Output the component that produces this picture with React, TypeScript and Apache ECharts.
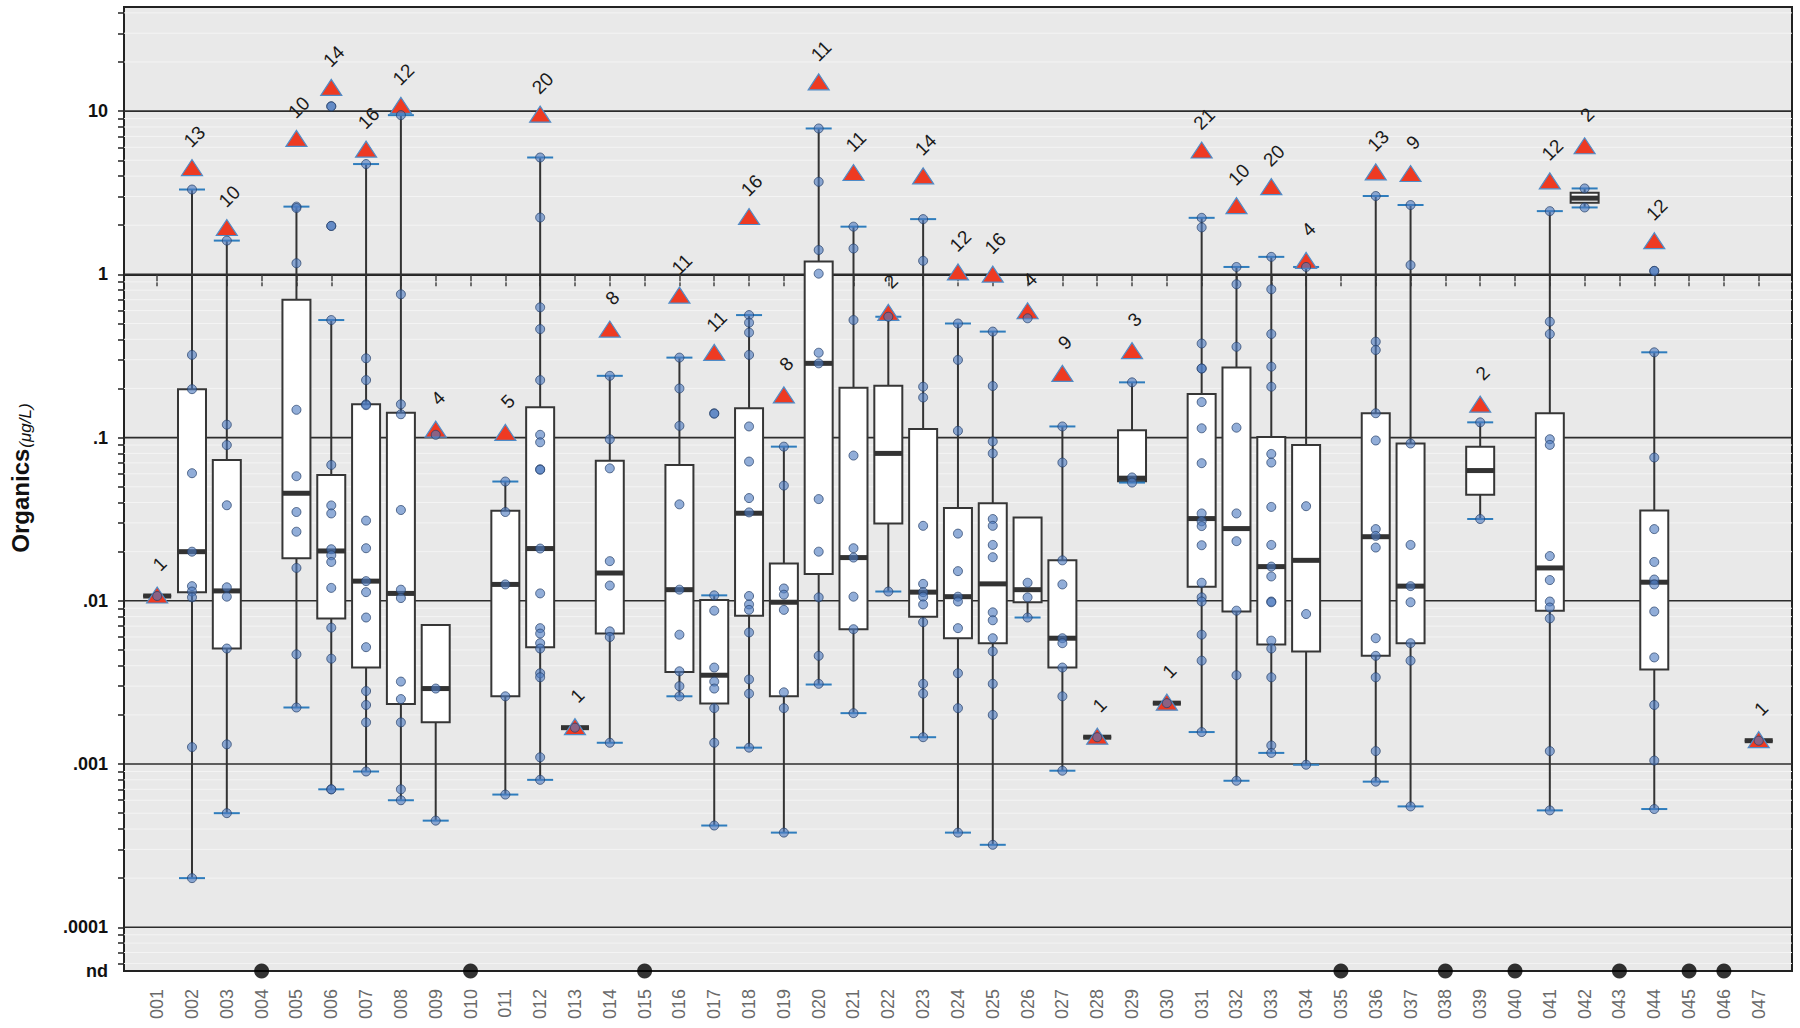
import React, { useEffect, useRef } from 'react';
import * as echarts from 'echarts';

const categories = ['001','002','003','004','005','006','007','008','009','010','011','012','013','014','015','016','017','018','019','020','021','022','023','024','025','026','027','028','029','030','031','032','033','034','035','036','037','038','039','040','041','042','043','044','045','046','047'];

const whiskerLow = [0.0107,0.0002,0.0005,null,0.00222,0.0007,0.0009,0.0006,0.00045,null,0.00065,0.0008,0.00167,0.00135,null,0.0026,0.00042,0.00126,0.00038,0.00307,0.00205,0.0114,0.00146,0.00038,0.00032,0.0079,0.00091,0.00146,0.053,0.00236,0.00157,0.00079,0.00117,0.00099,null,0.00078,0.00055,null,0.0317,null,0.00052,2.57,null,0.00053,null,null,0.00139];
const q1 = [0.0107,0.0113,0.0051,null,0.0182,0.0078,0.0039,0.00233,0.0018,null,0.0026,0.0052,0.00167,0.0063,null,0.00366,0.00235,0.0081,0.0026,0.0146,0.0067,0.0298,0.008,0.0059,0.0055,0.0098,0.0039,0.00146,0.054,0.00236,0.0122,0.0086,0.0054,0.0049,null,0.0046,0.0055,null,0.0446,null,0.0087,2.75,null,0.0038,null,null,0.00139];
const median = [0.0107,0.02,0.0115,null,0.0456,0.0202,0.0132,0.0111,0.0029,null,0.0126,0.0209,0.00167,0.0148,null,0.0117,0.0035,0.0344,0.0098,0.285,0.0184,0.08,0.0113,0.0106,0.0127,0.0117,0.0059,0.00146,0.0564,0.00236,0.0319,0.0277,0.0162,0.0177,null,0.0247,0.0123,null,0.0628,null,0.0159,2.93,null,0.013,null,null,0.00139];
const q3 = [0.0107,0.198,0.073,null,0.7,0.059,0.16,0.142,0.0071,null,0.0356,0.1535,0.00167,0.072,null,0.068,0.0101,0.151,0.0169,1.2,0.202,0.208,0.113,0.037,0.0396,0.0324,0.0177,0.00146,0.111,0.00236,0.185,0.269,0.101,0.09,null,0.141,0.092,null,0.088,null,0.141,3.16,null,0.0357,null,null,0.00139];
const whiskerHigh = [0.0107,3.31,1.61,null,2.6,0.525,4.74,9.45,null,null,0.0538,5.2,0.00167,0.239,null,0.309,0.0108,0.563,0.088,7.83,1.96,0.55,2.18,0.5,0.446,null,0.117,0.00146,0.218,0.00236,2.22,1.11,1.28,1.11,null,3.02,2.66,null,0.124,null,2.44,3.36,null,0.333,null,null,0.00139];

const triangleValues = [0.0107,4.45,1.91,null,6.71,13.8,5.77,10.7,0.111,null,0.106,9.45,0.00167,0.456,null,0.736,0.328,2.23,0.18,14.9,4.15,0.577,3.96,1.02,0.99,0.59,0.244,0.00146,0.336,0.00236,5.7,2.6,3.4,1.2,null,4.19,4.09,null,0.158,null,3.69,6.05,null,1.585,null,null,0.00139];
const triangleCounts = [1,13,10,null,10,14,16,12,4,null,5,20,1,8,null,11,11,16,8,11,11,2,14,12,16,4,9,1,3,1,21,10,20,4,null,13,9,null,2,null,12,2,null,12,null,null,1];

const ndCategories = ['004','010','015','035','038','040','043','045','046'];

const pointValues: number[][] = [
  [0.0107],
  [3.31,0.321,0.198,0.0605,0.02,0.0123,0.0114,0.0105,0.00127,0.0002],
  [1.61,0.12,0.09,0.0385,0.0121,0.0106,0.0051,0.00132,0.0005],
  [],
  [2.6,2.55,1.17,0.148,0.058,0.035,0.0265,0.0159,0.0047,0.00222],
  [10.7,10.7,1.98,1.98,0.525,0.068,0.0384,0.0343,0.0207,0.019,0.0173,0.012,0.00685,0.00442,0.0007,0.0007],
  [4.74,0.306,0.225,0.16,0.158,0.031,0.021,0.0132,0.0113,0.0079,0.0052,0.0028,0.0023,0.0018,0.0009],
  [9.45,0.755,0.16,0.139,0.036,0.0117,0.0104,0.0032,0.0025,0.0018,0.0007,0.0006],
  [0.104,0.0029,0.00045],
  [],
  [0.0538,0.035,0.0126,0.0026,0.00065],
  [5.2,2.23,0.628,0.462,0.225,0.104,0.0936,0.064,0.0635,0.0209,0.0111,0.0068,0.0063,0.0055,0.0051,0.0036,0.0034,0.0011,0.0008],
  [0.00167],
  [0.239,0.0977,0.0648,0.0175,0.0124,0.0065,0.006,0.00135],
  [],
  [0.309,0.2,0.118,0.039,0.0117,0.0062,0.0037,0.003,0.0026],
  [0.141,0.14,0.0108,0.0087,0.0039,0.0032,0.0029,0.0022,0.00135,0.00042],
  [0.563,0.506,0.44,0.321,0.117,0.0713,0.0426,0.0348,0.0107,0.0095,0.0088,0.0064,0.0033,0.0027,0.00126],
  [0.088,0.0508,0.0119,0.0109,0.0088,0.00275,0.0022,0.00038],
  [7.83,3.69,1.41,1.01,0.331,0.285,0.042,0.02,0.0105,0.0046,0.0031],
  [1.96,1.44,0.525,0.0776,0.021,0.0184,0.0106,0.0067,0.00205],
  [0.55,0.0114],
  [2.18,1.21,0.205,0.176,0.0288,0.0127,0.0113,0.0106,0.0095,0.0074,0.0031,0.0027,0.00146],
  [0.5,0.299,0.11,0.0258,0.0152,0.0106,0.0099,0.0068,0.0036,0.0022,0.00038],
  [0.446,0.207,0.0947,0.08,0.0317,0.0288,0.022,0.0185,0.0085,0.0076,0.0059,0.0049,0.0031,0.002,0.00032],
  [0.538,0.0129,0.0105,0.0079],
  [0.117,0.0703,0.0177,0.0126,0.0059,0.0055,0.0039,0.0026,0.00091],
  [0.00146],
  [0.218,0.057,0.053],
  [0.00236],
  [2.22,1.94,0.377,0.265,0.265,0.165,0.114,0.0697,0.0343,0.0307,0.0287,0.0219,0.0129,0.0105,0.0099,0.0062,0.0043,0.00157],
  [1.11,0.87,0.36,0.115,0.0343,0.0232,0.0087,0.0035,0.00079],
  [1.28,0.81,0.431,0.272,0.205,0.0794,0.0703,0.0376,0.022,0.0162,0.0141,0.0099,0.0098,0.0057,0.0051,0.0034,0.0013,0.00117],
  [1.11,0.038,0.0083,0.00099],
  [],
  [3.02,0.387,0.344,0.141,0.096,0.0275,0.025,0.0212,0.0059,0.0046,0.0034,0.0012,0.00078],
  [2.66,1.14,0.092,0.022,0.0123,0.0098,0.0055,0.0043,0.00055],
  [],
  [0.124,0.0317],
  [],
  [2.44,0.513,0.431,0.0977,0.0902,0.0188,0.0134,0.0099,0.0091,0.0078,0.0012,0.00052],
  [3.36,2.57],
  [],
  [1.05,1.05,0.333,0.0755,0.0275,0.0173,0.0135,0.0126,0.0086,0.0045,0.0023,0.00105,0.00053],
  [],
  [],
  [0.00139],
];

const yMajorTicks = [10, 1, 0.1, 0.01, 0.001, 0.0001];
const yMajorLabels = ['10', '1', '.1', '.01', '.001', '.0001'];
const yMinorMultipliers = [2, 3, 4, 5, 6, 7, 8, 9];
const yMinorDecades = [0.00001, 0.0001, 0.001, 0.01, 0.1, 1, 10];
const ndLabel = 'nd';

const Y_MIN = -4.268;
const Y_MAX = 1.638;
const X_MIN = 0.047;
const X_MAX = 47.956;
const FONT = '"Liberation Sans", Arial, Helvetica, sans-serif';

const L = (v: number) => Math.log10(v);

export default function App() {
  const ref = useRef<HTMLDivElement>(null);

  useEffect(() => {
    if (!ref.current) return;
    const chart = echarts.init(ref.current, null, { renderer: 'svg' });

    const majorExps = yMajorTicks.map(L);
    const minorExps: number[] = [];
    yMinorDecades.forEach((d) => {
      yMinorMultipliers.forEach((m) => {
        const e = L(d * m);
        if (e > Y_MIN && e < Y_MAX) minorExps.push(e);
      });
    });
    const labelExps = [...majorExps, Y_MIN];
    const labelTexts = [...yMajorLabels, ndLabel];

    const gridData = [
      ...minorExps.map((e) => [X_MIN, e, 0]),
      ...majorExps.map((e) => [X_MIN, e, 1]),
    ];

    const boxIdx: number[] = [];
    categories.forEach((_, i) => { if (median[i] != null) boxIdx.push(i); });
    const boxData = boxIdx.map((i) => [i + 1, L(median[i] as number)]);

    const triIdx: number[] = [];
    categories.forEach((_, i) => { if (triangleValues[i] != null) triIdx.push(i); });
    const triData = triIdx.map((i) => [i + 1, L(triangleValues[i] as number)]);

    const pointData: number[][] = [];
    pointValues.forEach((arr, i) => arr.forEach((v) => pointData.push([i + 1, L(v)])));

    const ndData = ndCategories.map((c) => [categories.indexOf(c) + 1, Y_MIN]);

    const option: any = {
      animation: false,
      backgroundColor: '#ffffff',
      grid: {
        left: 124, right: 8, top: 7, bottom: 57,
        show: true, backgroundColor: '#e9e9e9', borderColor: '#222', borderWidth: 2,
        containLabel: false, outerBoundsMode: 'none',
      },
      xAxis: {
        type: 'value', min: X_MIN, max: X_MAX,
        axisLine: { show: true, lineStyle: { color: '#222', width: 2 } },
        axisTick: { show: true, customValues: categories.map((_, i) => i + 1), length: 12, lineStyle: { color: '#444', width: 1.5 } },
        axisLabel: {
          show: true, customValues: categories.map((_, i) => i + 1), rotate: 90, margin: 18,
          color: '#6a6a6a', fontSize: 18, fontFamily: FONT,
          formatter: (v: number) => categories[Math.round(v) - 1] ?? '',
        },
        splitLine: { show: false },
      },
      yAxis: {
        type: 'value', min: Y_MIN, max: Y_MAX,
        axisLine: { show: true, lineStyle: { color: '#222', width: 2 } },
        axisTick: { show: true, customValues: [...majorExps, ...minorExps], length: 6, lineStyle: { color: '#222', width: 1.5 } },
        axisLabel: {
          show: true, customValues: labelExps, margin: 16,
          color: '#111', fontSize: 18, fontWeight: 'bold', fontFamily: FONT,
          formatter: (v: number) => {
            const k = labelExps.findIndex((e) => Math.abs(e - v) < 1e-6);
            return k >= 0 ? labelTexts[k] : '';
          },
        },
        splitLine: { show: false },
      },
      graphic: [
        {
          type: 'text', x: 21, y: 478, rotation: Math.PI / 2, z: 100,
          style: {
            text: '{a|Organics}{b|(μg/L)}',
            align: 'center', verticalAlign: 'middle',
            rich: {
              a: { fontSize: 24, fontWeight: 'bold', fontFamily: FONT, fill: '#111', lineHeight: 26, verticalAlign: 'top' },
              b: { fontSize: 17, fontStyle: 'italic', fontFamily: FONT, fill: '#111', lineHeight: 19, verticalAlign: 'bottom', padding: [9, 0, 0, 1] },
            },
          },
        },
      ],
      series: [
        {
          type: 'custom', name: 'grid', z: 1, silent: true,
          data: gridData,
          renderItem: (params: any, api: any) => {
            const y = api.coord([X_MIN, api.value(1)])[1];
            const cs = params.coordSys;
            const major = api.value(2) === 1;
            return {
              type: 'line',
              shape: { x1: cs.x, y1: y, x2: cs.x + cs.width, y2: y },
              style: { stroke: major ? '#2d2d2d' : '#f4f4f4', lineWidth: major ? 1.6 : 1 },
            };
          },
        },
        {
          type: 'custom', name: 'box', z: 2, silent: true,
          data: boxData,
          renderItem: (params: any, api: any) => {
            const i = boxIdx[params.dataIndex];
            const k = i + 1;
            const x = api.coord([k, L(median[i] as number)])[0];
            const yy = (v: number) => api.coord([k, L(v)])[1];
            const hw = 14, cw = 13;
            const children: any[] = [];
            const lo = whiskerLow[i], hi = whiskerHigh[i];
            const a = q1[i] as number, m = median[i] as number, b = q3[i] as number;
            const single = a === b && lo === a && hi === b;
            if (hi != null && !single) {
              children.push({ type: 'line', shape: { x1: x, y1: yy(b), x2: x, y2: yy(hi) }, style: { stroke: '#333', lineWidth: 2 } });
            }
            if (lo != null && !single) {
              children.push({ type: 'line', shape: { x1: x, y1: yy(a), x2: x, y2: yy(lo) }, style: { stroke: '#333', lineWidth: 2 } });
            }
            children.push({
              type: 'rect', shape: { x: x - hw, y: yy(b), width: hw * 2, height: yy(a) - yy(b) },
              style: { fill: '#ffffff', stroke: '#363636', lineWidth: 2 },
            });
            children.push({ type: 'line', shape: { x1: x - hw, y1: yy(m), x2: x + hw, y2: yy(m) }, style: { stroke: '#333', lineWidth: 5 } });
            if (!single) {
              if (hi != null) children.push({ type: 'line', shape: { x1: x - cw, y1: yy(hi), x2: x + cw, y2: yy(hi) }, style: { stroke: '#2f7dbd', lineWidth: 2 } });
              if (lo != null) children.push({ type: 'line', shape: { x1: x - cw, y1: yy(lo), x2: x + cw, y2: yy(lo) }, style: { stroke: '#2f7dbd', lineWidth: 2 } });
            }
            return { type: 'group', children };
          },
        },
        {
          type: 'custom', name: 'triangles', z: 3, silent: true,
          data: triData,
          renderItem: (params: any, api: any) => {
            const i = triIdx[params.dataIndex];
            const p = api.coord([api.value(0), api.value(1)]);
            const x = p[0], y = p[1];
            return {
              type: 'group',
              children: [
                {
                  type: 'polygon',
                  shape: { points: [[x, y - 9], [x - 10.5, y + 7], [x + 10.5, y + 7]] },
                  style: { fill: '#ee3a22', stroke: '#4f8cc8', lineWidth: 1.2 },
                },
                {
                  type: 'text', x: x + 2.5, y: y - 32, rotation: Math.PI / 4,
                  style: {
                    text: String(triangleCounts[i]), fontSize: 19, fontFamily: FONT, fill: '#1a1a1a',
                    align: 'center', verticalAlign: 'middle',
                  },
                },
              ],
            };
          },
        },
        {
          type: 'scatter', name: 'points', z: 4, silent: true, clip: false,
          symbol: 'circle', symbolSize: 9,
          itemStyle: { color: 'rgba(78,124,192,0.78)', borderColor: 'rgba(36,62,104,0.9)', borderWidth: 1 },
          data: pointData,
        },
        {
          type: 'scatter', name: 'nd', z: 5, silent: true, clip: false,
          symbol: 'circle', symbolSize: 15,
          itemStyle: { color: '#000' },
          data: ndData,
        },
      ],
    };

    chart.setOption(option);
    return () => { chart.dispose(); };
  }, []);

  return <div ref={ref} style={{ position: 'absolute', left: 0, top: 0, width: 1800, height: 1028 }} />;
}
